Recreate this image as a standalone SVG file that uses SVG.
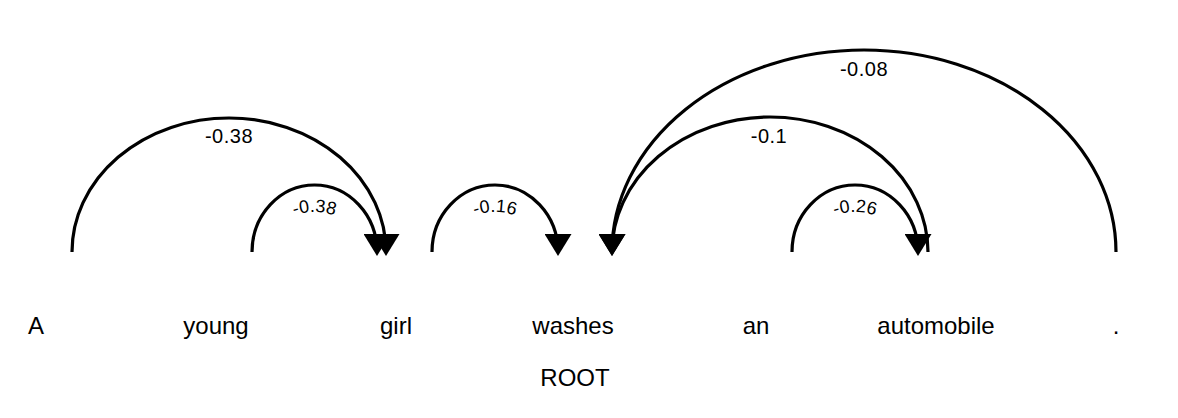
<svg xmlns="http://www.w3.org/2000/svg" width="1178" height="418" viewBox="0 0 1178 418">
<style>
.word{font-family:"Liberation Sans",Arial,sans-serif;font-size:24px;fill:#000;text-anchor:middle}
.arc{fill:none;stroke:#000;stroke-width:3.2}
.head{marker-end:url(#ah)}
.lbl{font-family:"Liberation Sans",Arial,sans-serif;font-size:20px;fill:#000;text-anchor:middle;letter-spacing:0.5px}
.slbl{font-family:"Liberation Sans",Arial,sans-serif;font-size:18px;fill:#000;text-anchor:middle}
</style>
<defs>
<marker id="ah" markerUnits="userSpaceOnUse" markerWidth="22" markerHeight="27" viewBox="0 0 22 27" refX="18" refY="13.5" orient="auto">
<path d="M0 0 L22 13.5 L0 27 Z" fill="#000"/>
</marker>
<path id="lp2" d="M264.5 252 A50 40 0 0 1 364.5 252"/>
<path id="lp3" d="M445 252 A50 40 0 0 1 545 252"/>
<path id="lp6" d="M805 252 A50 40 0 0 1 905 252"/>
</defs>
<rect width="1178" height="418" fill="#fff"/>
<g id="connectors">
<path class="arc head" d="M72 252 A157 134 0 0 1 386 252"/>
<path class="arc head" d="M252 252 A62.5 67 0 0 1 377 252"/>
<path class="arc head" d="M432 252 A63 67 0 0 1 558 252"/>
<path class="arc head" d="M928 252 A158 135 0 0 0 612 252"/>
<path class="arc head" d="M1116 252 A252 202 0 0 0 612 252"/>
<path class="arc head" d="M792 252 A63 67 0 0 1 918 252"/>
<text class="lbl" x="229" y="143">-0.38</text>
<text class="slbl"><textPath href="#lp2" startOffset="50%">-0.38</textPath></text>
<text class="slbl"><textPath href="#lp3" startOffset="50%">-0.16</textPath></text>
<text class="lbl" x="769" y="143">-0.1</text>
<text class="lbl" x="864" y="76">-0.08</text>
<text class="slbl"><textPath href="#lp6" startOffset="50%">-0.26</textPath></text>
</g>
<g id="n0"><text class="word" x="36" y="334">A</text></g>
<g id="n1"><text class="word" x="216" y="334">young</text></g>
<g id="n2"><text class="word" x="396" y="334">girl</text></g>
<g id="n3"><text class="word" x="573" y="334">washes</text><text class="word" x="575" y="386">ROOT</text></g>
<g id="n4"><text class="word" x="756" y="334">an</text></g>
<g id="n5"><text class="word" x="936" y="334">automobile</text></g>
<g id="n6"><text class="word" x="1116" y="334">.</text></g>
</svg>
